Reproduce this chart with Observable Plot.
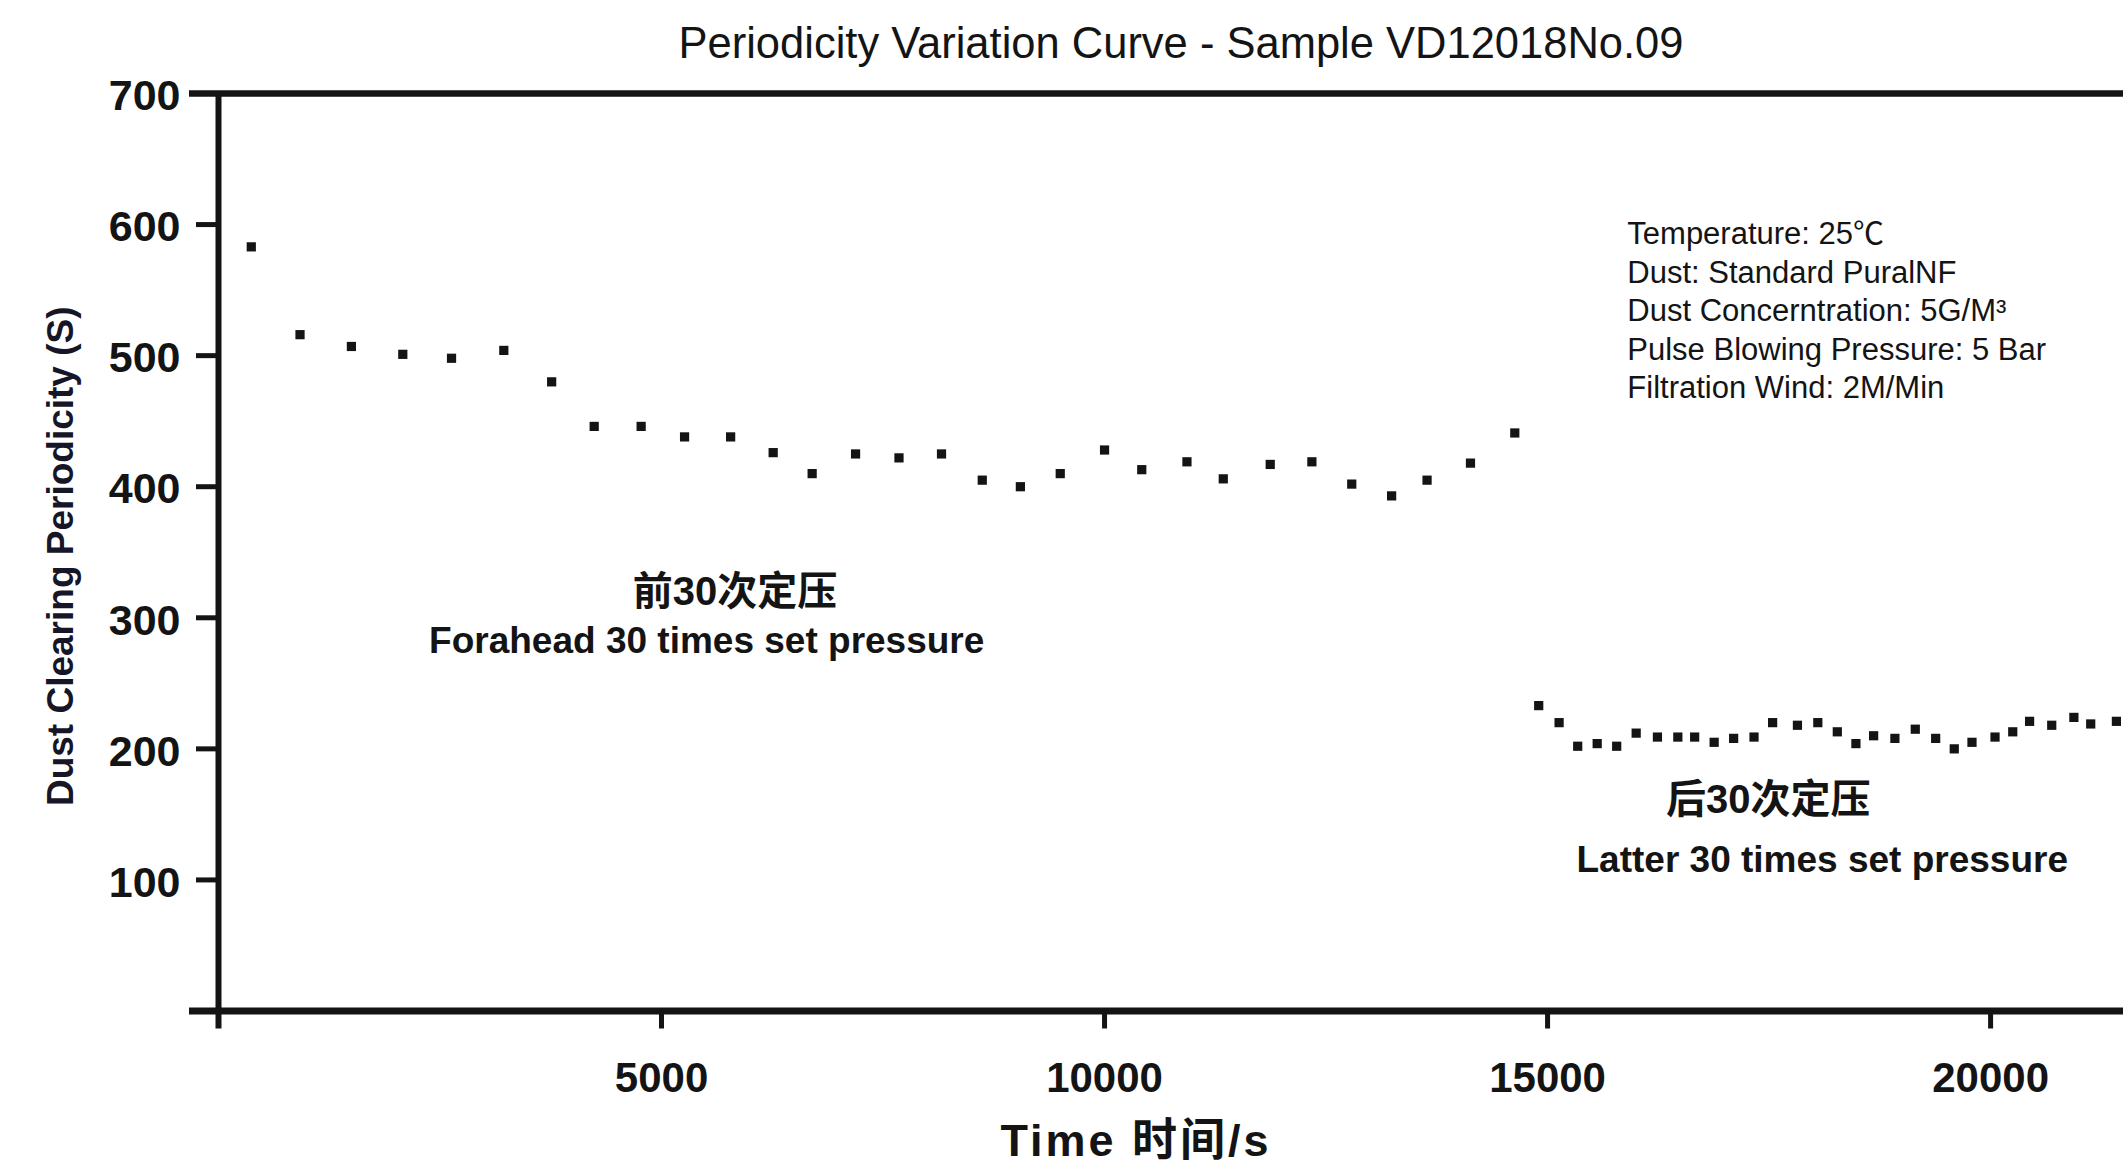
<!DOCTYPE html>
<html>
<head>
<meta charset="utf-8">
<script src="https://cdn.jsdelivr.net/npm/d3@7"></script>
<script src="https://cdn.jsdelivr.net/npm/@observablehq/plot@0.6"></script>
<style>
  html, body { margin: 0; padding: 0; background: #fff; overflow: hidden; }
  #chart svg { display: block; }
</style>
</head>
<body>
<div id="chart"></div>
<script>
// ---- text ----
const title = "Periodicity Variation Curve - Sample VD12018No.09";
const xLabel = "Time 时间/s";
const yLabel = "Dust Clearing Periodicity (S)";
const infoLines = [
  "Temperature: 25℃",
  "Dust: Standard PuralNF",
  "Dust Concerntration: 5G/M³",
  "Pulse Blowing Pressure: 5 Bar",
  "Filtration Wind: 2M/Min"
];
const groupLabels = ["前30次定压", "后30次定压"];
const groupNotes = ["Forahead 30 times set pressure", "Latter 30 times set pressure"];

// ---- ticks ----
const xTicks = [5000, 10000, 15000, 20000];
const yTicks = [100, 200, 300, 400, 500, 600, 700];

// ---- data: first 30 cycles (set pressure) ----
const time1 = [370, 920, 1500, 2080, 2630, 3220, 3760, 4240, 4770, 5260,
               5780, 6260, 6700, 7190, 7680, 8160, 8620, 9050, 9500, 10000,
               10420, 10930, 11340, 11870, 12340, 12790, 13240, 13640, 14130, 14630];
const period1 = [583, 516, 507, 501, 498, 504, 480, 446, 446, 438,
                 438, 426, 410, 425, 422, 425, 405, 400, 410, 428,
                 413, 419, 406, 417, 419, 402, 393, 405, 418, 441];

// ---- data: latter 30 cycles (set pressure) ----
const time2 = [14900, 15130, 15340, 15560, 15780, 16000, 16240, 16470, 16660, 16880,
               17100, 17330, 17540, 17820, 18050, 18270, 18480, 18680, 18920, 19150,
               19380, 19590, 19790, 20050, 20250, 20440, 20690, 20940, 21130, 21420];
const period2 = [233, 220, 202, 204, 202, 212, 209, 209, 209, 205,
                 208, 209, 220, 218, 220, 213, 204, 210, 208, 215,
                 208, 200, 205, 209, 213, 221, 218, 224, 219, 221];

// ---- annotation anchors (data units) ----
const groupLabelX = [5830, 17490];
const groupLabelY = [310, 151];
const groupNoteX = [5510, 18100];
const groupNoteY = [273.5, 106.4];
const infoX = 15900;
const infoY = 606;

const INK = "#141414";
const FONT = "'Liberation Sans', Arial, 'Noto Sans CJK SC', sans-serif";

const idx1 = d3.range(time1.length);
const idx2 = d3.range(time2.length);
const idxG = d3.range(groupLabels.length);

const chart = Plot.plot({
  width: 2123,
  height: 1168,
  marginTop: 93,
  marginBottom: 157.5,
  marginLeft: 218,
  marginRight: 0,
  style: { fontFamily: FONT, background: "#fff", color: INK },
  x: { domain: [0, 21500] },
  y: { domain: [0, 700] },
  marks: [
    // frame lines
    Plot.ruleY([700], { stroke: INK, strokeWidth: 6.5, insetLeft: -29 }),
    Plot.ruleY([0], { stroke: INK, strokeWidth: 7, insetLeft: -29 }),
    Plot.ruleX([0], { stroke: INK, strokeWidth: 6, insetBottom: -18 }),
    // y axis ticks and labels
    Plot.axisY({ ticks: yTicks, tickSize: 22, strokeWidth: 5, stroke: INK, fill: "none", label: null }),
    Plot.axisY({ ticks: yTicks, tickSize: 0, tickPadding: 38, fontSize: 43, fontWeight: "bold",
                 fill: INK, dy: 3, label: null, tickFormat: d => String(d) }),
    // x axis ticks and labels
    Plot.axisX({ ticks: xTicks, tickSize: 18, strokeWidth: 5, stroke: INK, fill: "none", label: null }),
    Plot.axisX({ ticks: xTicks, tickSize: 0, tickPadding: 51, fontSize: 42, fontWeight: "bold",
                 fill: INK, label: null, tickFormat: d => String(d) }),
    // titles
    Plot.text([title], { text: d => d, frameAnchor: "top", lineAnchor: "bottom", dy: -36, dx: 10,
                         fontSize: 43.5, fill: INK }),
    Plot.text([xLabel], { text: d => d, frameAnchor: "bottom", lineAnchor: "bottom", dy: 145, dx: -35,
                          fontSize: 45, fontWeight: "bold", fill: INK }),
    Plot.text([yLabel], { text: d => d, frameAnchor: "left", textAnchor: "middle", rotate: -90,
                          dx: -157, dy: 4, fontSize: 37, fontWeight: "bold", fill: "#161628" }),
    // data points
    Plot.dot(idx1, { x: i => time1[i], y: i => period1[i], symbol: "square", r: 5.2, fill: INK }),
    Plot.dot(idx2, { x: i => time2[i], y: i => period2[i], symbol: "square", r: 5.2, fill: INK }),
    // group annotations
    Plot.text(idxG, { x: i => groupLabelX[i], y: i => groupLabelY[i], text: i => groupLabels[i],
                      lineAnchor: "bottom", fontSize: 40, fontWeight: "bold", fill: INK }),
    Plot.text(idxG, { x: i => groupNoteX[i], y: i => groupNoteY[i], text: i => groupNotes[i],
                      lineAnchor: "bottom", fontSize: 37, fontWeight: "bold", fill: INK }),
    // info block
    Plot.text([infoLines.join("\n")], { x: infoX, y: infoY, text: d => d, textAnchor: "start",
                      lineAnchor: "top", lineHeight: 1.245, fontSize: 31, fill: INK })
  ]
});

// widen the x-axis title a little, as in the reference
d3.select(chart).selectAll("text")
  .filter(function () { return this.textContent === xLabel; })
  .attr("letter-spacing", "3px");

document.getElementById("chart").appendChild(chart);
</script>
</body>
</html>
